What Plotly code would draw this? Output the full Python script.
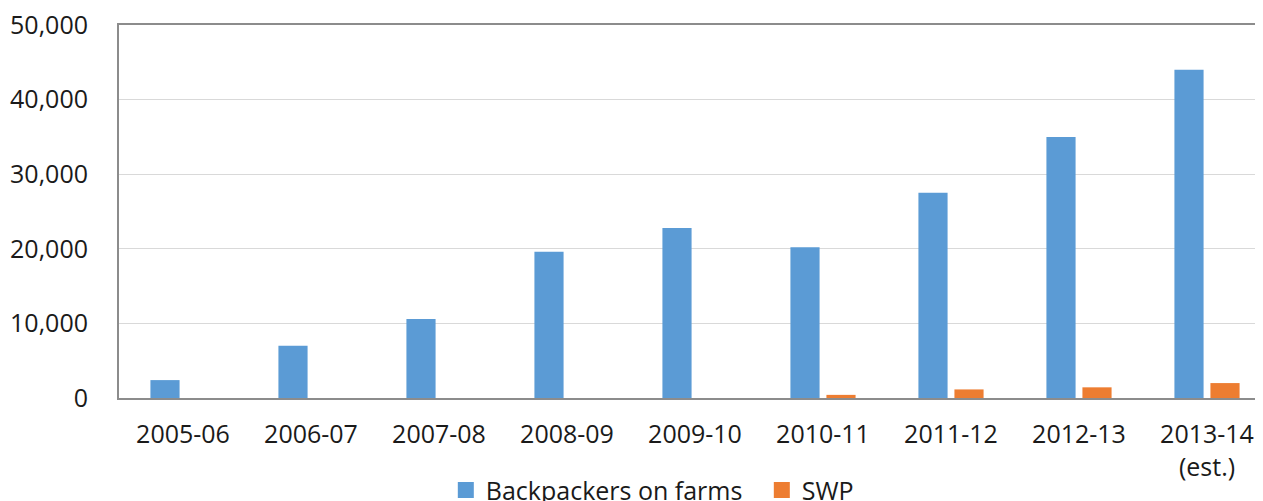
import plotly.graph_objects as go

categories = ["2005-06", "2006-07", "2007-08", "2008-09", "2009-10",
              "2010-11", "2011-12", "2012-13", "2013-14<br>(est.)"]
backpackers = [2400, 7000, 10600, 19600, 22800, 20200, 27500, 35000, 44000]
swp = [0, 0, 0, 0, 0, 420, 1150, 1430, 2000]
y_ticks = [0, 10000, 20000, 30000, 40000, 50000]
y_tick_labels = ["0", "10,000", "20,000", "30,000", "40,000", "50,000"]

FONT = "Open Sans"
BLUE = "#5b9bd5"
ORANGE = "#ed7d31"
TXT = "#1a1a1a"

fig = go.Figure()
fig.add_trace(go.Bar(x=categories, y=backpackers, name="Backpackers on farms",
                     marker=dict(color=BLUE, line=dict(width=0)), showlegend=False))
fig.add_trace(go.Bar(x=categories, y=swp, name="SWP",
                     marker=dict(color=ORANGE, line=dict(width=0)), showlegend=False))
# legend entries with larger square swatches
fig.add_trace(go.Scatter(x=[None], y=[None], mode="markers", name="Backpackers on farms",
                         marker=dict(symbol="square", size=16, color=BLUE)))
fig.add_trace(go.Scatter(x=[None], y=[None], mode="markers", name="SWP",
                         marker=dict(symbol="square", size=16, color=ORANGE)))

fig.update_layout(
    width=1263, height=501,
    margin=dict(l=111, r=0, t=17, b=111, autoexpand=False),
    paper_bgcolor="white", plot_bgcolor="white",
    barmode="group", bargap=0.4375, bargroupgap=0.19,
    font=dict(family=FONT, size=25, color=TXT),
    showlegend=True,
    legend=dict(orientation="h", x=0.558, xanchor="center", y=-0.247, yanchor="middle",
                font=dict(family=FONT, size=25, color=TXT),
                traceorder="normal", itemwidth=30,
                entrywidth=271, entrywidthmode="pixels"),
    xaxis=dict(type="category", range=[-0.5, 8.5], showgrid=False, showline=True, mirror=True,
               linecolor="#8c8c8c", linewidth=2, ticks="", ticklabelstandoff=13,
               automargin=False, ticklabeloverflow="allow",
               tickfont=dict(family=FONT, size=25, color=TXT)),
    yaxis=dict(range=[0, 50000], tickvals=y_ticks, ticktext=y_tick_labels,
               showgrid=True, gridcolor="#d9d9d9", gridwidth=1,
               showline=True, linecolor="#8c8c8c", linewidth=2, zeroline=False,
               ticks="", ticklabelstandoff=24, automargin=False,
               ticklabeloverflow="allow",
               tickfont=dict(family=FONT, size=25, color=TXT)),
)

fig.write_html("out.html")
